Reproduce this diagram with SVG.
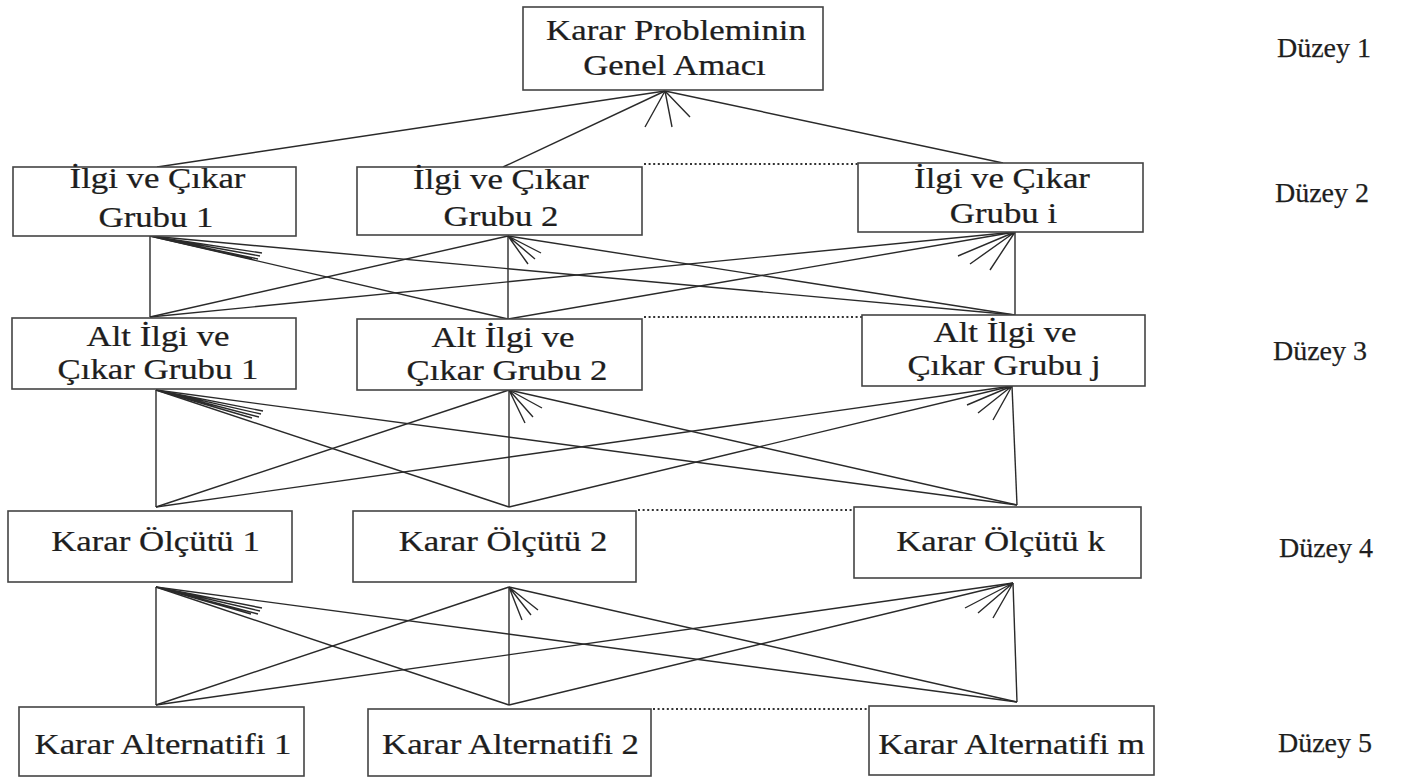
<svg xmlns="http://www.w3.org/2000/svg" width="1404" height="780" viewBox="0 0 1404 780">
<style>
.box{fill:#fff;stroke:#444;stroke-width:1.6}
.t{font-family:"Liberation Serif","Times New Roman",serif;font-size:29px;fill:#1e1e1e;text-anchor:middle;stroke:#1e1e1e;stroke-width:0.25}
.lv{font-family:"Liberation Serif","Times New Roman",serif;font-size:28px;fill:#1e1e1e;text-anchor:middle;stroke:#1e1e1e;stroke-width:0.25}
.ln{stroke:#2a2a2a;stroke-width:1.4;fill:none}
.dot{stroke:#333;stroke-width:2;stroke-dasharray:2 2.6;fill:none}
</style>
<rect width="1404" height="780" fill="#fff"/>
<g id="connectors">
<line class="ln" x1="157" y1="167" x2="665" y2="91"/>
<line class="ln" x1="503" y1="167" x2="665" y2="91"/>
<line class="ln" x1="1003" y1="163" x2="665" y2="91"/>
<path class="ln" d="M665,91 L645,127 M665,91 L672,127 M665,91 L690,117"/>
<line class="ln" x1="150" y1="317" x2="150" y2="236"/>
<line class="ln" x1="150" y1="317" x2="508" y2="236"/>
<line class="ln" x1="150" y1="317" x2="1015" y2="232"/>
<line class="ln" x1="508" y1="319" x2="150" y2="236"/>
<line class="ln" x1="508" y1="319" x2="508" y2="236"/>
<line class="ln" x1="508" y1="319" x2="1015" y2="232"/>
<line class="ln" x1="1015" y1="315" x2="150" y2="236"/>
<line class="ln" x1="1015" y1="315" x2="508" y2="236"/>
<line class="ln" x1="1015" y1="315" x2="1015" y2="232"/>
<path class="ln" d="M150,236 L262,253 M150,236 L260,256 M150,236 L258,259 M150,236 L252,259"/>
<path class="ln" d="M508,236 L528,264 M508,236 L535,259 M508,236 L541,253"/>
<path class="ln" d="M1015,232 L958,256 M1015,232 L970,264 M1015,232 L990,270"/>
<line class="ln" x1="156" y1="507" x2="156" y2="390"/>
<line class="ln" x1="156" y1="507" x2="509" y2="390"/>
<line class="ln" x1="156" y1="507" x2="1012" y2="386"/>
<line class="ln" x1="509" y1="507" x2="156" y2="390"/>
<line class="ln" x1="509" y1="507" x2="509" y2="390"/>
<line class="ln" x1="509" y1="507" x2="1012" y2="386"/>
<line class="ln" x1="1017" y1="505" x2="156" y2="390"/>
<line class="ln" x1="1017" y1="505" x2="509" y2="390"/>
<line class="ln" x1="1017" y1="505" x2="1012" y2="386"/>
<path class="ln" d="M156,390 L263,411 M156,390 L261,414 M156,390 L259,417 M156,390 L252,418"/>
<path class="ln" d="M509,390 L525,423 M509,390 L533,417 M509,390 L542,408"/>
<path class="ln" d="M1012,386 L967,405 M1012,386 L978,413 M1012,386 L993,420"/>
<line class="ln" x1="156" y1="705" x2="156" y2="587"/>
<line class="ln" x1="156" y1="705" x2="509" y2="587"/>
<line class="ln" x1="156" y1="705" x2="1013" y2="583"/>
<line class="ln" x1="509" y1="705" x2="156" y2="587"/>
<line class="ln" x1="509" y1="705" x2="509" y2="587"/>
<line class="ln" x1="509" y1="705" x2="1013" y2="583"/>
<line class="ln" x1="1017" y1="702" x2="156" y2="587"/>
<line class="ln" x1="1017" y1="702" x2="509" y2="587"/>
<line class="ln" x1="1017" y1="702" x2="1013" y2="583"/>
<path class="ln" d="M156,587 L262,608 M156,587 L260,611 M156,587 L258,614 M156,587 L251,614"/>
<path class="ln" d="M509,587 L522,620 M509,587 L531,615 M509,587 L538,610"/>
<path class="ln" d="M1013,583 L965,608 M1013,583 L978,613 M1013,583 L993,618"/>
<line class="dot" x1="644" y1="164" x2="858" y2="164"/>
<line class="dot" x1="644" y1="317" x2="862" y2="317"/>
<line class="dot" x1="638" y1="510" x2="854" y2="510"/>
<line class="dot" x1="653" y1="709" x2="869" y2="709"/>
</g>
<g id="n-goal">
<rect class="box" x="523" y="7" width="300" height="83"/>
<text class="t" transform="translate(676,40) scale(1.2,1)">Karar Probleminin</text>
<text class="t" transform="translate(674.5,75) scale(1.2,1)">Genel Amacı</text>
</g>
<g id="n-ig1">
<rect class="box" x="13" y="167" width="283" height="69"/>
<text class="t" transform="translate(157.5,188) scale(1.2,1)">İlgi ve Çıkar</text>
<text class="t" transform="translate(156,227) scale(1.2,1)">Grubu 1</text>
</g>
<g id="n-ig2">
<rect class="box" x="357" y="167" width="285" height="68"/>
<text class="t" transform="translate(501,189) scale(1.2,1)">İlgi ve Çıkar</text>
<text class="t" transform="translate(501,226) scale(1.2,1)">Grubu 2</text>
</g>
<g id="n-igi">
<rect class="box" x="858" y="163" width="285" height="69"/>
<text class="t" transform="translate(1002,188) scale(1.2,1)">İlgi ve Çıkar</text>
<text class="t" transform="translate(1003.5,223) scale(1.2,1)">Grubu i</text>
</g>
<g id="n-aig1">
<rect class="box" x="12" y="318" width="284" height="71"/>
<text class="t" transform="translate(158,346) scale(1.2,1)">Alt İlgi ve</text>
<text class="t" transform="translate(158,379) scale(1.2,1)">Çıkar Grubu 1</text>
</g>
<g id="n-aig2">
<rect class="box" x="357" y="319" width="285" height="71"/>
<text class="t" transform="translate(503,347) scale(1.2,1)">Alt İlgi ve</text>
<text class="t" transform="translate(507,380) scale(1.2,1)">Çıkar Grubu 2</text>
</g>
<g id="n-aigj">
<rect class="box" x="862" y="315" width="283" height="71"/>
<text class="t" transform="translate(1005,342) scale(1.2,1)">Alt İlgi ve</text>
<text class="t" transform="translate(1004,375) scale(1.2,1)">Çıkar Grubu j</text>
</g>
<g id="n-ko1">
<rect class="box" x="8" y="511" width="284" height="71"/>
<text class="t" transform="translate(155.5,551) scale(1.2,1)">Karar Ölçütü 1</text>
</g>
<g id="n-ko2">
<rect class="box" x="353" y="511" width="283" height="71"/>
<text class="t" transform="translate(503,551) scale(1.2,1)">Karar Ölçütü 2</text>
</g>
<g id="n-kok">
<rect class="box" x="854" y="507" width="287" height="71"/>
<text class="t" transform="translate(1000.5,551) scale(1.2,1)">Karar Ölçütü k</text>
</g>
<g id="n-ka1">
<rect class="box" x="19" y="707" width="285" height="69"/>
<text class="t" transform="translate(163,754) scale(1.2,1)">Karar Alternatifi 1</text>
</g>
<g id="n-ka2">
<rect class="box" x="368" y="709" width="283" height="67"/>
<text class="t" transform="translate(510.5,754) scale(1.2,1)">Karar Alternatifi 2</text>
</g>
<g id="n-kam">
<rect class="box" x="869" y="706" width="285" height="69"/>
<text class="t" transform="translate(1011.5,754) scale(1.2,1)">Karar Alternatifi m</text>
</g>
<g id="levels">
<text class="lv" x="1324" y="57">Düzey 1</text>
<text class="lv" x="1322" y="202">Düzey 2</text>
<text class="lv" x="1320" y="360">Düzey  3</text>
<text class="lv" x="1326" y="557">Düzey  4</text>
<text class="lv" x="1325" y="752">Düzey 5</text>
</g>
</svg>
